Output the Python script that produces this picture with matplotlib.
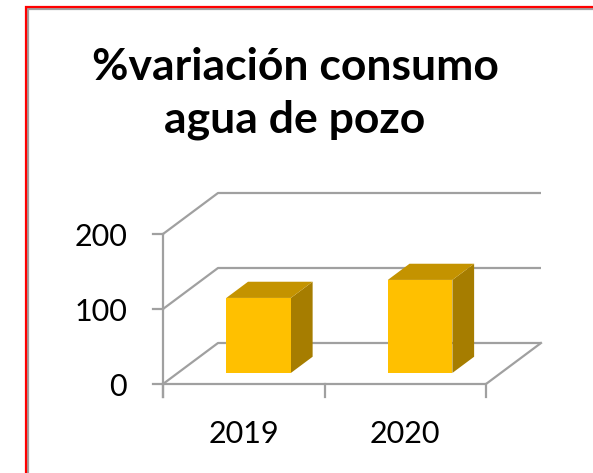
import matplotlib.pyplot as plt
from matplotlib.patches import Polygon, Rectangle

# datos
categorias = ["2019", "2020"]
variacion = [100, 124]
ticks_y = [0, 100, 200]
titulo = ["%variación consumo", "agua de pozo"]

# colores de las caras de la barra
c_frente = "#FFC000"
c_arriba = "#C49300"
c_lado = "#A67D00"
c_grid = "#A0A0A0"

# profundidad oblicua (en unidades de categoria / valor)
DX = 55 / 161.5
DY = 41 / 0.75
F0, F1 = 0.27, 0.665   # profundidad frontal y trasera de la barra
ANCHO = 0.2


def proy(x, v, f):
    return (x + f * DX, v + f * DY)


fig = plt.figure(figsize=(5.93, 4.73), dpi=100)
ax = fig.add_axes([0, 0, 1, 1])
ax.set_xlim(-163 / 161.5, (593 - 163) / 161.5)
ax.set_ylim(-89 / 0.75, (473 - 89) / 0.75)
ax.axis("off")

n = len(categorias)
ymax = ticks_y[-1]
lw = 1.6

# pared del fondo y pared lateral
for t in ticks_y:
    x0, y0 = proy(0, t, 0)
    x1, y1 = proy(0, t, 1)
    x2, y2 = proy(n, t, 1)
    ax.plot([x0, x1, x2], [y0, y1, y2], color=c_grid, lw=lw, solid_capstyle="butt")
# suelo
xa, ya = proy(0, 0, 0)
xb, yb = proy(n, 0, 0)
xc, yc = proy(n, 0, 1)
ax.plot([xa, xb, xc], [ya, yb, yc], color=c_grid, lw=lw)
# eje vertical
ax.plot([0, 0], [-17, ymax], color=c_grid, lw=lw)
for t in ticks_y:
    ax.plot([-10 / 161.5, 0], [t, t], color=c_grid, lw=lw)
    ax.text(-36 / 161.5, t - 4.5, str(t), ha="right", va="center", fontsize=22,
            family="Lato", color="#000000")
for i in range(n + 1):
    ax.plot([i, i], [0, -17], color=c_grid, lw=lw)

# barras
for i, (cat, v) in enumerate(zip(categorias, variacion)):
    xl = i + 0.5 - ANCHO
    xr = i + 0.5 + ANCHO
    frente = [proy(xl, 0, F0), proy(xr, 0, F0), proy(xr, v, F0), proy(xl, v, F0)]
    arriba = [proy(xl, v, F0), proy(xr, v, F0), proy(xr, v, F1), proy(xl, v, F1)]
    lado = [proy(xr, 0, F0), proy(xr, 0, F1), proy(xr, v, F1), proy(xr, v, F0)]
    ax.add_patch(Polygon(lado, closed=True, fc=c_lado, ec="none", zorder=3))
    ax.add_patch(Polygon(arriba, closed=True, fc=c_arriba, ec="none", zorder=3))
    ax.add_patch(Polygon(frente, closed=True, fc=c_frente, ec="none", zorder=4))
    ax.text(i + 0.5, -66, cat, ha="center", va="center", fontsize=22,
            family="Lato", color="#000000")

# titulo (dos lineas)
for linea, base in zip(titulo, [80, 132]):
    fig.text(295 / 593, 1 - base / 473, linea, ha="center", va="baseline",
             fontsize=32, fontweight="bold", family="Lato")

# marco del grafico
fig.patches.append(Rectangle((28 / 593, -0.1), 1.2, (473 - 9) / 473 + 0.1,
                             transform=fig.transFigure, fill=False,
                             ec="#A0A0A0", lw=1.6))
fig.patches.append(Rectangle((26 / 593, -0.1), 1.2, (473 - 7) / 473 + 0.1,
                             transform=fig.transFigure, fill=False,
                             ec="#FF0000", lw=1.6))

fig.savefig("out.png", dpi=100)
